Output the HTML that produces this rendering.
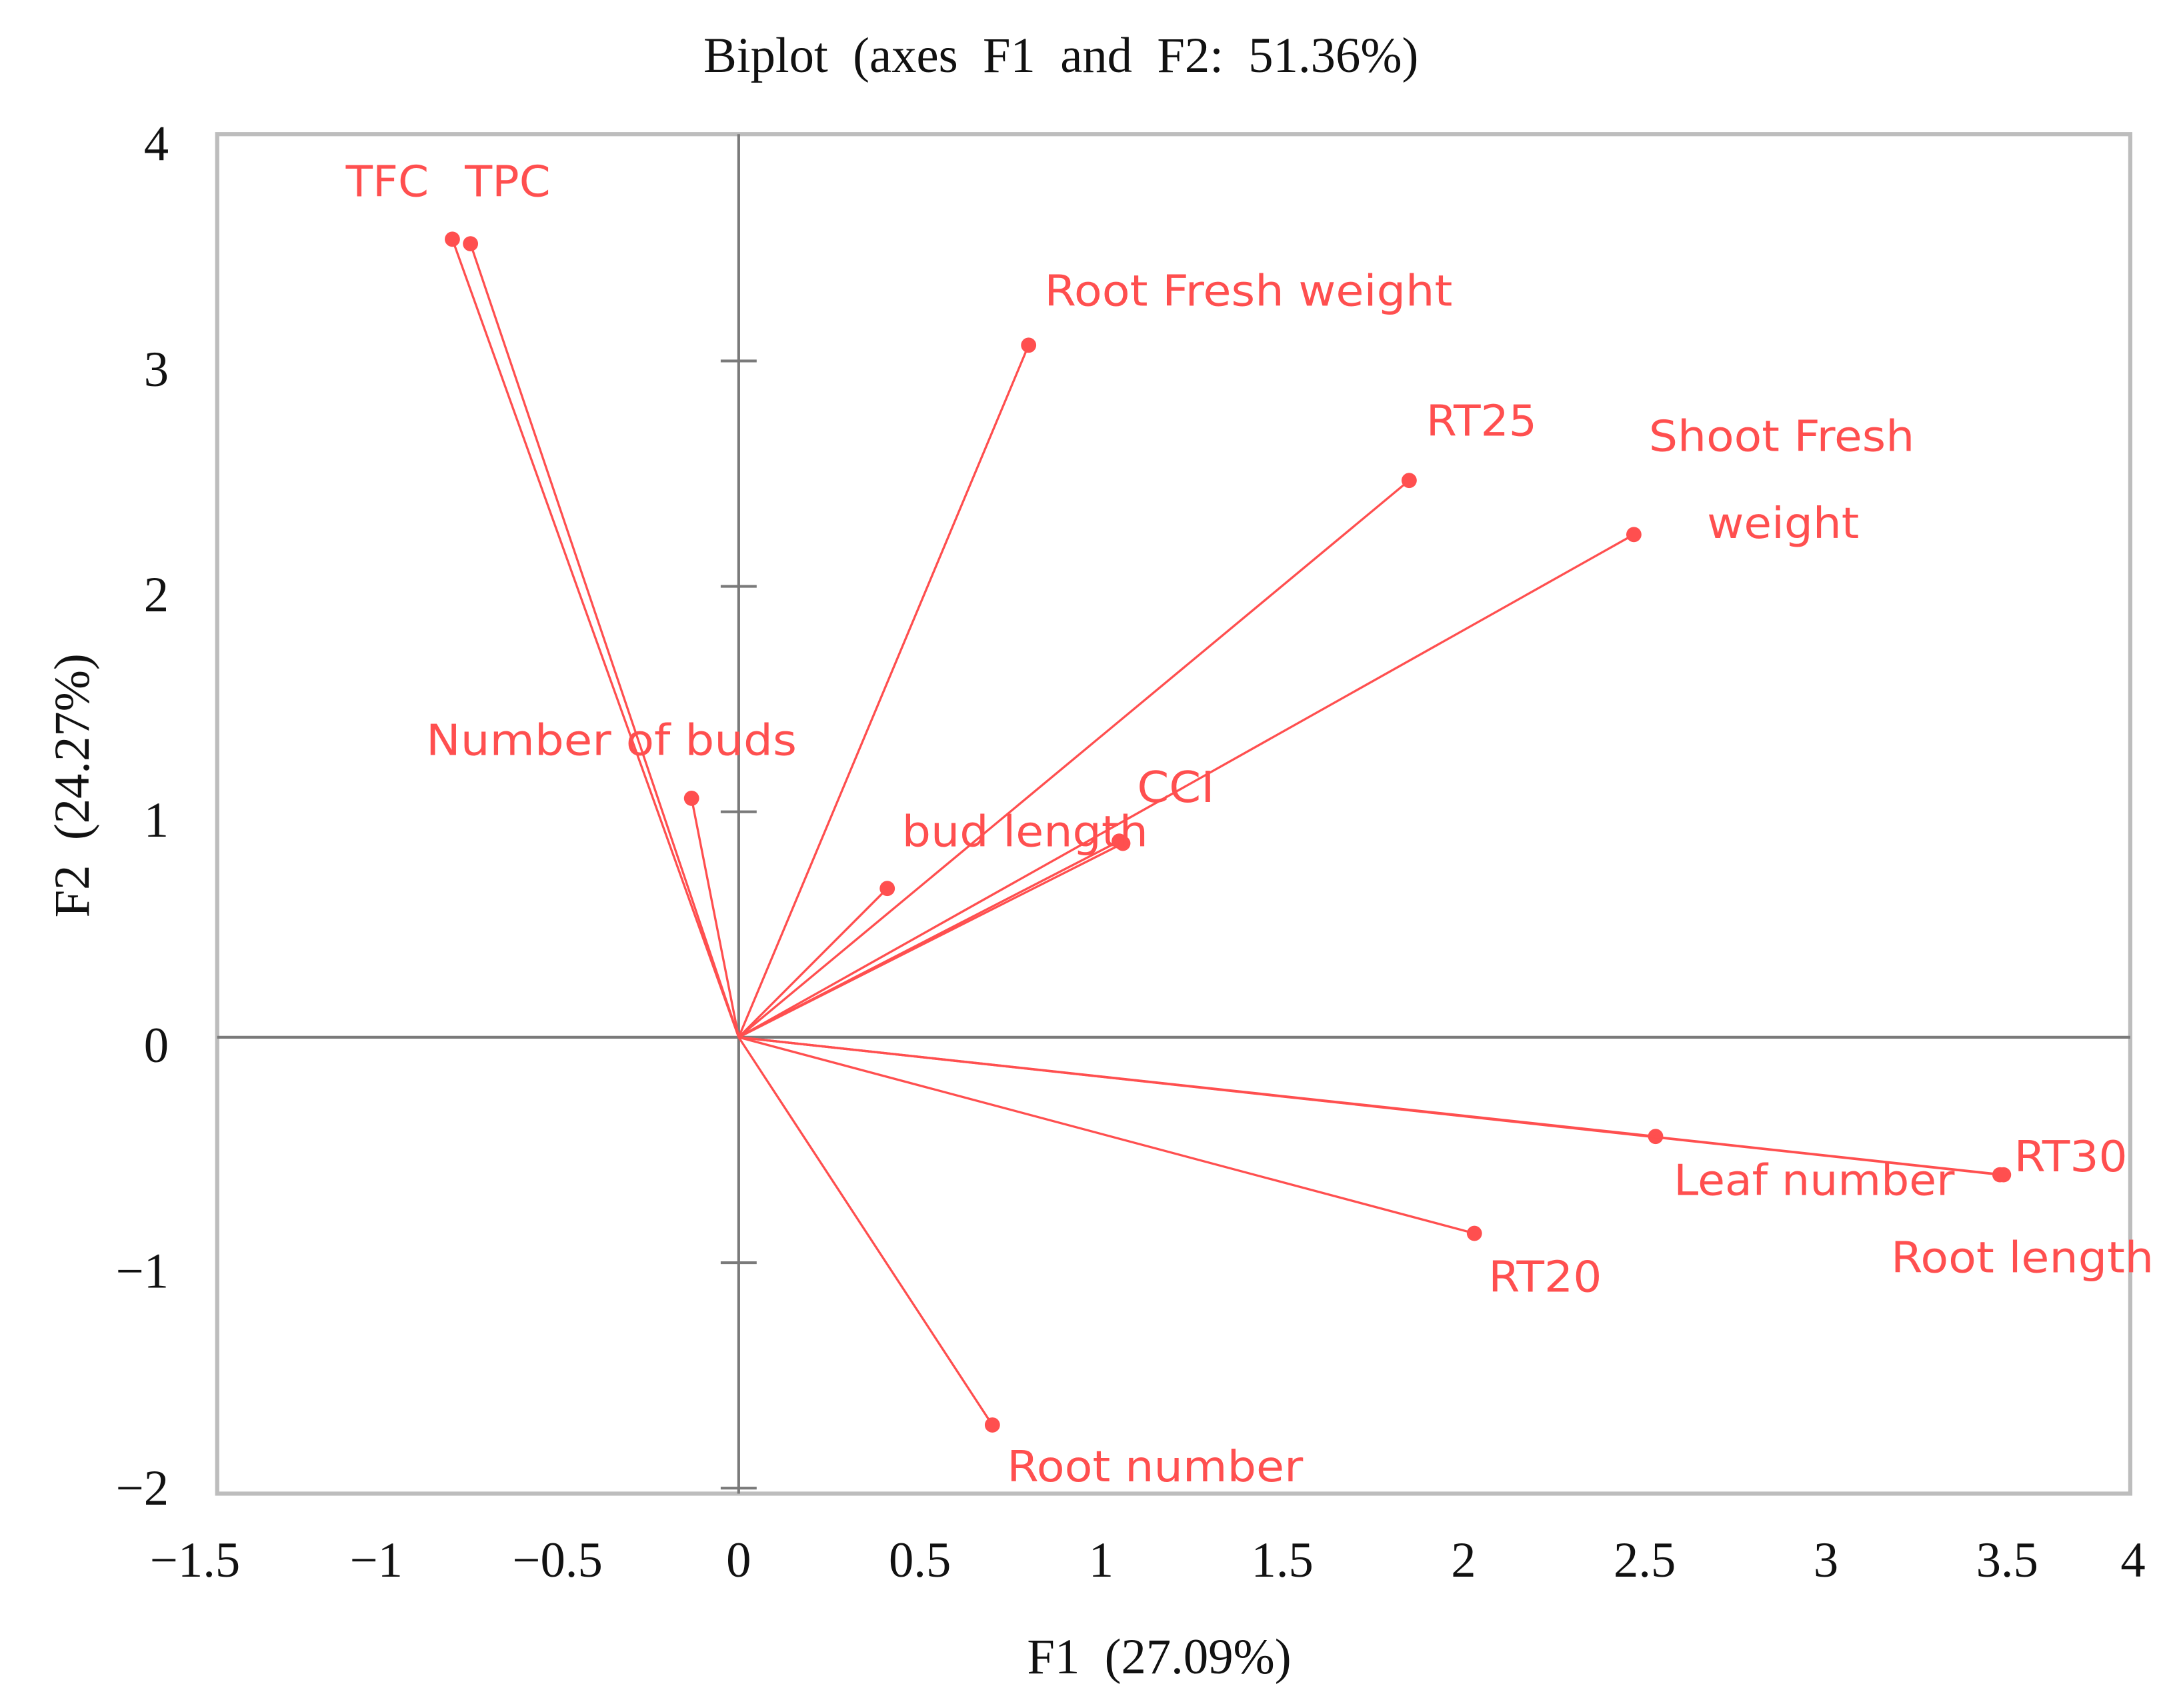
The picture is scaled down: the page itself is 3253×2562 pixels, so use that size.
<!DOCTYPE html>
<html><head><meta charset="utf-8"><style>
html,body{margin:0;padding:0;background:#fff;}
svg{display:block;}
.serif{font-family:"Liberation Serif",serif;fill:#111;}
.lab{font-family:"DejaVu Sans","Liberation Sans",sans-serif;fill:#ff4f4f;font-size:31px;}
</style></head><body>
<svg id="chart" width="3253" height="2562" viewBox="0 0 1568 1235" preserveAspectRatio="none" xmlns="http://www.w3.org/2000/svg">
<text class="serif" x="767" y="52" text-anchor="middle" font-size="36" word-spacing="9">Biplot (axes F1 and F2: 51.36%)</text>
<rect x="157" y="97" width="1383" height="983" fill="none" stroke="#bdbdbd" stroke-width="3"/>
<g id="axes"></g>
<g id="vectors"></g>
<text class="serif" x="838" y="1210" text-anchor="middle" font-size="36" word-spacing="9">F1 (27.09%)</text>
<text class="serif" transform="translate(64,568) rotate(-90)" text-anchor="middle" font-size="36" word-spacing="9">F2 (24.27%)</text>
</svg>
<script>
const names = ["TFC","TPC","Root Fresh weight","RT25","Shoot Fresh weight","Number of buds","bud length","CCI","CCI-2","Leaf number","RT30","Root length","RT20","Root number"];
const f1 = [-0.79,-0.74,0.80,1.85,2.47,-0.13,0.41,1.05,1.06,2.53,3.48,3.49,2.03,0.70];
const f2 = [3.54,3.52,3.07,2.47,2.23,1.06,0.66,0.87,0.86,-0.44,-0.61,-0.61,-0.87,-1.72];
const xTicks = [-1.5,-1,-0.5,0,0.5,1,1.5,2,2.5,3,3.5,4];
const xTickLabels = ["\u22121.5","\u22121","\u22120.5","0","0.5","1","1.5","2","2.5","3","3.5","4"];
const yTicks = [-2,-1,0,1,2,3,4];
const yTickLabels = ["\u22122","\u22121","0","1","2","3","4"];

const X0=534, XS=262, Y0=750, YS=163;
const sx=v=>X0+v*XS, sy=v=>Y0-v*YS;
const NS="http://www.w3.org/2000/svg";
function mk(tag,attrs,parent){const e=document.createElementNS(NS,tag);for(const k in attrs)e.setAttribute(k,attrs[k]);parent.appendChild(e);return e;}
const axes=document.getElementById('axes'), vec=document.getElementById('vectors');
let e;
e=mk('line',{x1:157,x2:1540,y1:sy(0),y2:sy(0),stroke:'#7a7a7a','stroke-width':2},axes);


e=mk('line',{x1:sx(0),x2:sx(0),y1:97,y2:1080,stroke:'#7a7a7a','stroke-width':2},axes);


yTicks.forEach((v,i)=>{
  if(v!==0 && v!==4){
    const t=mk('line',{x1:sx(0)-13,x2:sx(0)+13,y1:sy(v),y2:sy(v),stroke:'#7a7a7a','stroke-width':2},axes);
    
    
  }
  const l=mk('text',{x:122,y:Math.min(sy(v)+18,1088),'text-anchor':'end','font-size':36,class:'serif'},axes);
  l.textContent=yTickLabels[i];
  
  
});
xTicks.forEach((v,i)=>{
  const l=mk('text',{x:Math.min(sx(v),1542),y:1140,'text-anchor':'middle','font-size':36,class:'serif'},axes);
  l.textContent=xTickLabels[i];
  
  
});
names.forEach((n,i)=>{
  const ln=mk('line',{x1:sx(0),y1:sy(0),x2:sx(f1[i]),y2:sy(f2[i]),stroke:'#ff4f4f','stroke-width':1.6},vec);
  
  
  const c=mk('circle',{cx:sx(f1[i]),cy:sy(f2[i]),r:5.5,fill:'#ff4f4f'},vec);
  
  
});
const labels=[["TFC",250,142,60],["TPC",336,142,62],["Root Fresh weight",755,221,295],["RT25",1031,315,80],["Shoot Fresh",1192,326,192],["weight",1234,389,110],["Number of buds",308,546,268],["bud length",652,612,178],["CCI",822,580,56],["Leaf number",1210,864,203],["RT30",1456,847,82],["Root length",1367,920,190],["RT20",1076,934,82],["Root number",728,1071,214]];
labels.forEach(a=>{
  const t=mk('text',{x:a[1],y:a[2],class:'lab',textLength:a[3],lengthAdjust:'spacingAndGlyphs'},vec);
  t.textContent=a[0];
  
  
});
</script>
</body></html>
